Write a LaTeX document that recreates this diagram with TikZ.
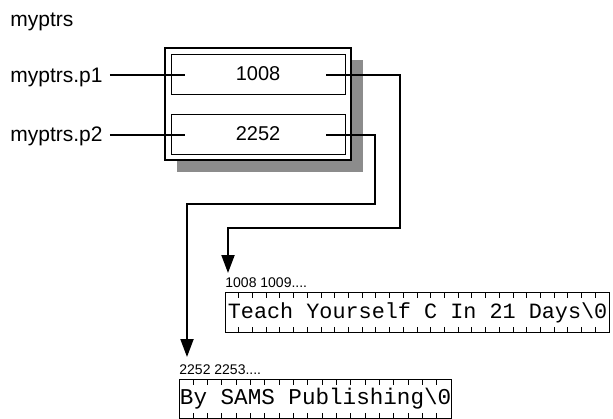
\documentclass[tikz,border=0pt]{standalone}
\usepackage{fontspec}
\setmainfont{Liberation Sans}
\setmonofont{Liberation Mono}
\usetikzlibrary{arrows.meta,shadows}

\tikzset{
  lbl/.style={font=\fontsize{10.5}{12}\selectfont,anchor=base west,inner sep=0pt},
  addr/.style={font=\fontsize{7}{8}\selectfont,anchor=base west,inner sep=0pt},
  rec/.style={draw,line width=1pt,fill=white,minimum width=93pt,minimum height=56pt,
    drop shadow={shadow xshift=6pt,shadow yshift=-6pt,fill=black!45,opacity=1}},
  cell/.style={draw,line width=0.5pt,fill=white,minimum width=87pt,minimum height=20pt,
    inner sep=0pt,font=\fontsize{10}{12}\selectfont},
  strbox/.style={draw,line width=0.6pt,anchor=north west,inner sep=0pt,
    font={\ttfamily\fontsize{#1}{14}\selectfont}},
  cellmark/.style={line width=0.5pt},
  ptr/.style={line width=1pt},
  ptrarrow/.style={line width=1pt,-{Triangle[length=9pt,width=6.5pt]}}
}

\begin{document}
\begin{tikzpicture}[x=0.5pt,y=-0.5pt]
\useasboundingbox (0,0) rectangle (613,418);

% the structure and its two members
\node[lbl] (name) at (10,26) {myptrs};
\node[rec] (myptrs) at (258,104) {};
\node[cell] (p1) at (258,74) {1008};
\node[cell] (p2) at (258,134) {2252};
\node[lbl] (p1lbl) at (10,82) {myptrs.p1};
\node[lbl] (p2lbl) at (10,141) {myptrs.p2};

\coordinate (p1in) at (185,75);
\coordinate (p2in) at (185,135);
\coordinate (p1out) at (326,75);
\coordinate (p2out) at (326,135);
\draw[ptr] ([xshift=3.5pt]p1lbl.east |- p1in) -- (p1in);
\draw[ptr] ([xshift=3.5pt]p2lbl.east |- p2in) -- (p2in);

% the two strings in memory
\node[addr] (addr1) at (225,287) {1008 1009....};
\node[strbox=10.9,minimum width=192pt,minimum height=20pt] (s1) at (225,292)
  {Teach Yourself C In 21 Days\textbackslash0};
\node[addr] (addr2) at (179,374) {2252 2253....};
\node[strbox=11.3,minimum width=136pt,minimum height=19.5pt] (s2) at (179,379)
  {By SAMS Publishing\textbackslash0};

\foreach \i in {1,...,27}{
  \draw[cellmark] ([xshift=\i*192pt/28]s1.north west) -- ++(0,6);
  \draw[cellmark] ([xshift=\i*192pt/28]s1.south west) -- ++(0,-6);
}
\foreach \i in {1,...,18}{
  \draw[cellmark] ([xshift=\i*136pt/19]s2.north west) -- ++(0,6);
  \draw[cellmark] ([xshift=\i*136pt/19]s2.south west) -- ++(0,-6);
}

% pointers
\coordinate (tip1) at (228,273);
\coordinate (tip2) at (187,357);
\draw[ptrarrow] (p1out) -| (400,228) -| (tip1);
\draw[ptrarrow] (p2out) -| (375,204) -| (tip2);
\end{tikzpicture}
\end{document}
